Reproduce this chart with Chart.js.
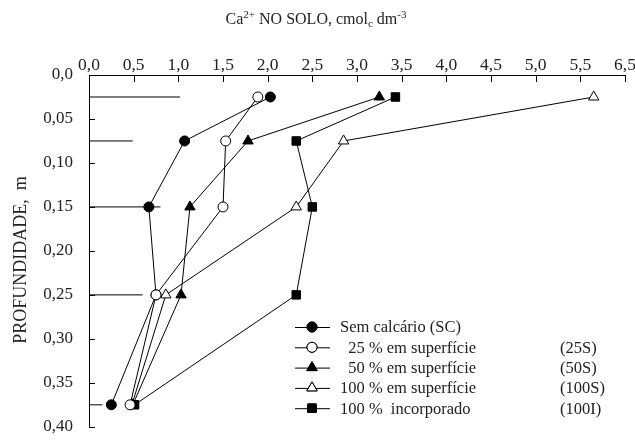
<!DOCTYPE html>
<html>
<head>
<meta charset="utf-8">
<script src="https://cdn.jsdelivr.net/npm/chart.js@4/dist/chart.umd.min.js"></script>
<style>
  html, body { margin: 0; padding: 0; background: #fff; }
  #wrap { width: 635px; height: 445px; position: relative; }
</style>
</head>
<body>
<div id="wrap"><canvas id="chart"></canvas></div>
<script>
// depth of each sample (m) and Ca2+ in soil (cmolc dm-3)
const depths = [0.025, 0.075, 0.15, 0.25, 0.375];
const semCalcario = [2.03, 1.07, 0.67, 0.75, 0.25];
const sup25 = [1.89, 1.53, 1.50, 0.75, 0.46];
const sup50 = [3.25, 1.78, 1.13, 1.03, 0.49];
const sup100 = [5.65, 2.85, 2.32, 0.86, 0.48];
const inc100 = [3.43, 2.32, 2.50, 2.32, 0.51];

// short horizontal marks drawn from the depth axis
const refLengths = [1.02, 0.49, 0.80, 0.60, 0.15];

const seriesNames = ['Sem calcário (SC)', '  25 % em superfície', '  50 % em superfície', '100 % em superfície', '100 %  incorporado'];
const seriesCodes = ['', '(25S)', '(50S)', '(100S)', '(100I)'];
const xTickLabels = ['0,0', '0,5', '1,0', '1,5', '2,0', '2,5', '3,0', '3,5', '4,0', '4,5', '5,0', '5,5', '6,5'];
const yTickLabels = ['0,0', '0,05', '0,10', '0,15', '0,20', '0,25', '0,30', '0,35', '0,40'];

const FONT = "'Liberation Serif', 'DejaVu Serif', serif";
Chart.defaults.font.family = FONT;
Chart.defaults.color = '#222';

const pts = vals => vals.map((v, i) => ({ x: v, y: depths[i] }));

const refData = [];
refLengths.forEach((len, i) => {
  refData.push({ x: 0, y: depths[i] }, { x: len, y: depths[i] }, { x: null, y: null });
});

const styles = [
  { pointStyle: 'circle', fill: '#000', r: 5 },
  { pointStyle: 'circle', fill: '#fff', r: 5 },
  { pointStyle: 'triangle', fill: '#000', r: 6 },
  { pointStyle: 'triangle', fill: '#fff', r: 6 },
  { pointStyle: 'rect', fill: '#000', r: 6 }
];
const seriesValues = [semCalcario, sup25, sup50, sup100, inc100];

const datasets = seriesValues.map((vals, i) => ({
  label: seriesNames[i],
  data: pts(vals),
  showLine: true,
  borderColor: '#000',
  borderWidth: 1,
  pointStyle: styles[i].pointStyle,
  pointRadius: styles[i].r,
  pointBackgroundColor: styles[i].fill,
  pointBorderColor: '#000',
  pointBorderWidth: 1,
  order: i === 1 ? 0 : i + 1
}));
datasets.push({
  label: 'ref',
  data: refData,
  showLine: true,
  spanGaps: false,
  borderColor: '#000',
  borderWidth: 1,
  pointRadius: 0,
  order: 10
});

const decor = {
  id: 'decor',
  afterDraw(chart) {
    const ctx = chart.ctx;
    const xs = chart.scales.x, ys = chart.scales.y;
    const area = chart.chartArea;
    ctx.save();
    ctx.strokeStyle = '#000';
    ctx.lineWidth = 1;
    // inward tick marks
    xs.ticks.forEach(t => {
      const px = Math.round(xs.getPixelForValue(t.value)) + 0.5;
      ctx.beginPath();
      ctx.moveTo(px, area.top);
      ctx.lineTo(px, area.top + 7);
      ctx.stroke();
    });
    ys.ticks.forEach(t => {
      const py = Math.round(ys.getPixelForValue(t.value)) + 0.5;
      ctx.beginPath();
      ctx.moveTo(area.left, py);
      ctx.lineTo(area.left + 6, py);
      ctx.stroke();
    });

    // title with super/subscripts
    ctx.fillStyle = '#222';
    ctx.textBaseline = 'alphabetic';
    const parts = [
      { t: 'Ca', s: 16, dy: 0 },
      { t: '2+', s: 11, dy: -6 },
      { t: ' NO SOLO, cmol', s: 16, dy: 0 },
      { t: 'c', s: 11, dy: 3 },
      { t: ' dm', s: 16, dy: 0 },
      { t: '-3', s: 11, dy: -6 }
    ];
    let total = 0;
    parts.forEach(p => { ctx.font = p.s + 'px ' + FONT; total += ctx.measureText(p.t).width; });
    let x = 316 - total / 2;
    parts.forEach(p => {
      ctx.font = p.s + 'px ' + FONT;
      ctx.fillText(p.t, x, 24 + p.dy);
      x += ctx.measureText(p.t).width;
    });

    // y axis title
    ctx.save();
    ctx.translate(26, 260);
    ctx.rotate(-Math.PI / 2);
    ctx.font = '18px ' + FONT;
    ctx.textAlign = 'center';
    ctx.fillText('PROFUNDIDADE,  m', 0, 0);
    ctx.restore();

    // legend
    const ly0 = 327, ldy = 20.3;
    ctx.font = '16.5px ' + FONT;
    ctx.textBaseline = 'middle';
    seriesNames.forEach((name, i) => {
      const y = ly0 + i * ldy;
      ctx.beginPath();
      ctx.moveTo(295, y + 0.5);
      ctx.lineTo(330, y + 0.5);
      ctx.stroke();
      Chart.helpers.drawPoint(ctx, {
        pointStyle: styles[i].pointStyle,
        radius: styles[i].r,
        rotation: 0,
        borderWidth: 1
      }, 312, y);
      ctx.fillStyle = styles[i].fill;
      ctx.fill();
      ctx.stroke();
      ctx.fillStyle = '#222';
      ctx.fillText(name, 340, y + 1);
      if (seriesCodes[i]) ctx.fillText(seriesCodes[i], 560, y + 1);
    });
    ctx.restore();
  }
};

new Chart(document.getElementById('chart'), {
  type: 'scatter',
  data: { datasets },
  options: {
    responsive: true,
    maintainAspectRatio: false,
    animation: false,
    layout: { padding: { top: 0, right: 10, bottom: 3, left: 0 } },
    plugins: { legend: { display: false }, tooltip: { enabled: false } },
    scales: {
      x: {
        type: 'linear',
        position: 'top',
        min: 0,
        max: 6,
        grid: { display: false },
        border: { display: true, color: '#000', width: 1 },
        afterBuildTicks: s => { s.ticks = xTickLabels.map((_, i) => ({ value: i * 0.5 })); },
        afterFit: s => { s.height = 75; },
        ticks: {
          padding: -9,
          font: { size: 17.5 },
          color: '#222',
          maxRotation: 0,
          autoSkip: false,
          callback: (v, i) => xTickLabels[i]
        }
      },
      y: {
        type: 'linear',
        reverse: true,
        min: 0,
        max: 0.40,
        grid: { display: false },
        border: { display: true, color: '#000', width: 1 },
        afterBuildTicks: s => { s.ticks = yTickLabels.map((_, i) => ({ value: i * 0.05 })); },
        afterFit: s => { s.width = 89; },
        ticks: {
          padding: 8,
          font: { size: 17 },
          color: '#222',
          autoSkip: false,
          callback: (v, i) => yTickLabels[i]
        }
      }
    }
  },
  plugins: [decor]
});
</script>
</body>
</html>
